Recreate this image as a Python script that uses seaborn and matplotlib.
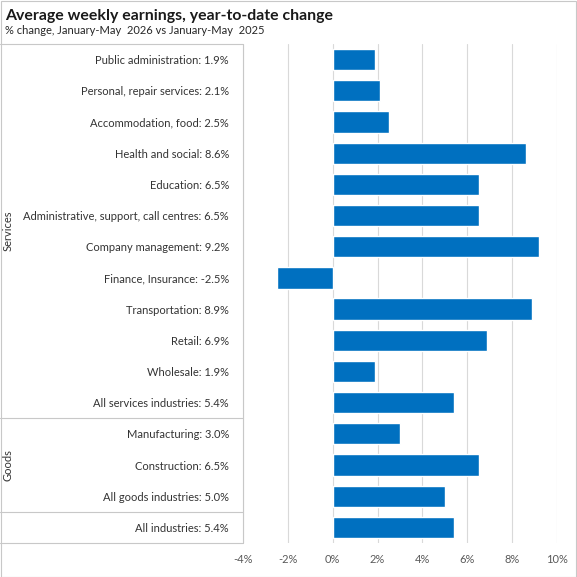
import matplotlib
matplotlib.use("Agg")
import matplotlib.pyplot as plt
import matplotlib.transforms as mtransforms
from matplotlib.lines import Line2D
from matplotlib.patches import Rectangle
import seaborn as sns
import pandas as pd

industries = [
    "Public administration", "Personal, repair services", "Accommodation, food",
    "Health and social", "Education", "Administrative, support, call centres",
    "Company management", "Finance, Insurance", "Transportation", "Retail",
    "Wholesale", "All services industries", "Manufacturing", "Construction",
    "All goods industries", "All industries",
]
change = [1.9, 2.1, 2.5, 8.6, 6.5, 6.5, 9.2, -2.5, 8.9, 6.9, 1.9, 5.4, 3.0, 6.5, 5.0, 5.4]
groups = ["Services", "Goods"]
group_rows = [(0, 11), (12, 14)]
x_ticks = [-4, -2, 0, 2, 4, 6, 8, 10]

labels = [f"{name}: {v:.1f}%" for name, v in zip(industries, change)]
df = pd.DataFrame({"label": labels, "change": change})

sns.set_style("white")
plt.rcParams["font.family"] = ["Lato", "DejaVu Sans"]

W = 577
fig = plt.figure(figsize=(5.77, 5.77), dpi=100)
ax = fig.add_axes([243 / W, 1 - 543 / W, (557 - 243) / W, (543 - 44) / W])

sns.barplot(data=df, x="change", y="label", color="#0070C0", width=0.68,
            saturation=1, ax=ax, zorder=3)

ax.set_xlim(-4, 10)
ax.set_xticks(x_ticks)
ax.set_xticklabels([f"{t}%" for t in x_ticks], fontsize=8, color="#595959")
ax.tick_params(axis="both", length=0)
ax.tick_params(axis="y", pad=10, labelsize=8, labelcolor="#333333")
ax.tick_params(axis="x", pad=8)
ax.set_xlabel("")
ax.set_ylabel("")
for s in ax.spines.values():
    s.set_visible(False)
ax.grid(axis="x", color="#D9D9D9", lw=0.8, zorder=0)
ax.grid(axis="y", visible=False)

# label box and group separators
line_kw = dict(color="#C8C8C8", lw=0.8)
bt = mtransforms.blended_transform_factory(fig.transFigure, ax.transData)
x_box = 243 / W
fig.add_artist(Line2D([0, x_box], [-0.5, -0.5], transform=bt, **line_kw))
fig.add_artist(Line2D([x_box, x_box], [-0.5, 15.5], transform=bt, **line_kw))
fig.add_artist(Line2D([0, x_box], [15.5, 15.5], transform=bt, **line_kw))
for a, b in group_rows:
    fig.add_artist(Line2D([0, x_box], [b + 0.5, b + 0.5], transform=bt, **line_kw))
for g, (a, b) in zip(groups, group_rows):
    fig.text(8 / W, (a + b) / 2, g, transform=bt, rotation=90, ha="center",
             va="center", fontsize=8, color="#333333")

# outer frame
fig.add_artist(Rectangle((0.5 / W, 0.5 / W), 1 - 1.5 / W, 1 - 1.5 / W,
                         transform=fig.transFigure, fill=False,
                         edgecolor="#C8C8C8", lw=0.8))

fig.text(5 / W, 1 - 16 / W, "Average weekly earnings, year-to-date change",
         fontsize=11.4, fontweight="bold", color="#1a1a1a", va="center")
fig.text(5 / W, 1 - 31 / W, "% change, January-May  2026 vs January-May  2025",
         fontsize=8, color="#262626", va="center")

fig.savefig("out.png", dpi=100)
